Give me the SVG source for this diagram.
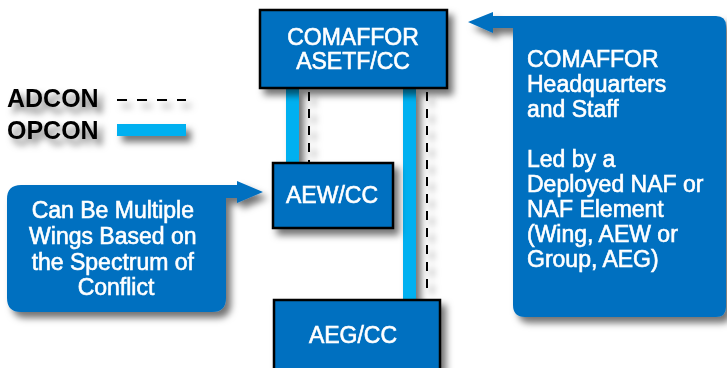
<svg xmlns="http://www.w3.org/2000/svg" width="727" height="368" viewBox="0 0 727 368">
<defs>
<filter id="sh" x="-20%" y="-20%" width="150%" height="150%">
<feDropShadow dx="5" dy="6" stdDeviation="3.5" flood-color="#000" flood-opacity="0.55"/>
</filter>
<style>
.box{fill:#0070C0;stroke:#000;stroke-width:2.5}
.call{fill:#0070C0}
.wt{fill:#fff;stroke:#fff;stroke-width:0.6;font-family:"Liberation Sans",Arial,sans-serif;font-size:23px}
.lg{fill:#000;font-family:"Liberation Sans",Arial,sans-serif;font-size:25px;font-weight:bold}
.op{stroke:#00B0F0;stroke-width:13;fill:none}
.ad{stroke:#000;stroke-width:2;stroke-dasharray:9 8;fill:none}
</style>
</defs>
<rect width="727" height="368" fill="#fff"/>
<g id="connectors" filter="url(#sh)">
<line class="op" x1="292.5" y1="88" x2="292.5" y2="164"/>
<line class="ad" x1="309" y1="92" x2="309" y2="163"/>
<line class="op" x1="409.5" y1="88" x2="409.5" y2="301"/>
<line class="ad" x1="427" y1="92" x2="427" y2="290"/>
</g>
<g id="legend" filter="url(#sh)">
<text class="lg" x="7" y="107">ADCON</text>
<text class="lg" x="7" y="139">OPCON</text>
<line x1="117" y1="100" x2="186" y2="100" stroke="#000" stroke-width="2" stroke-dasharray="10 10"/>
<rect x="117" y="124" width="69" height="12" fill="#00B0F0"/>
</g>
<g id="comaffor" filter="url(#sh)">
<rect class="box" x="260" y="10" width="187" height="78"/>
<text class="wt" x="353" y="45" text-anchor="middle">COMAFFOR</text>
<text class="wt" x="353" y="69" text-anchor="middle">ASETF/CC</text>
</g>
<g id="aew" filter="url(#sh)">
<rect class="box" x="273" y="163" width="120" height="65"/>
<text class="wt" x="332" y="203" text-anchor="middle">AEW/CC</text>
</g>
<g id="aeg" filter="url(#sh)">
<rect class="box" x="274" y="300" width="166" height="75"/>
<text class="wt" x="353" y="343" text-anchor="middle">AEG/CC</text>
</g>
<g id="callout-left" filter="url(#sh)">
<path class="call" d="M21,185 L237,185 L237,181 L263,192 L237,203 L237,198 L226,198 L226,298 Q226,312 212,312 L21,312 Q7,312 7,298 L7,199 Q7,185 21,185 Z"/>
<text class="wt" text-anchor="middle" font-size="24.5">
<tspan x="116" y="218">Can Be Multiple</tspan>
<tspan x="116" y="244">Wings Based on</tspan>
<tspan x="116" y="270">the Spectrum of</tspan>
<tspan x="116" y="295">Conflict</tspan>
</text>
</g>
<g id="callout-right" filter="url(#sh)">
<path class="call" d="M468,22 L493,12 L493,16 L716,16 Q726,16 726,26 L726,307 Q726,317 716,317 L525,317 Q513,317 513,305 L513,28 L493,28 L493,33 Z"/>
<text class="wt">
<tspan x="527" y="67">COMAFFOR</tspan>
<tspan x="527" y="92">Headquarters</tspan>
<tspan x="527" y="117">and Staff</tspan>
<tspan x="527" y="167">Led by a</tspan>
<tspan x="527" y="192">Deployed NAF or</tspan>
<tspan x="527" y="217">NAF Element</tspan>
<tspan x="527" y="242">(Wing, AEW or</tspan>
<tspan x="527" y="267">Group, AEG)</tspan>
</text>
</g>
</svg>
